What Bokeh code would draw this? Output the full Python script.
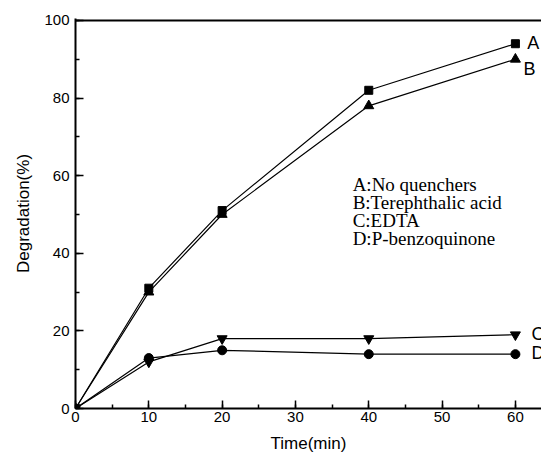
from bokeh.plotting import figure
from bokeh.models import Range1d, SingleIntervalTicker
from bokeh.embed import file_html
from bokeh.resources import INLINE
from bokeh.core.properties import value

time = [0, 10, 20, 40, 60]
series_a = [0, 31, 51, 82, 94]
series_b = [0, 30, 50, 78, 90]
series_c = [0, 12, 18, 18, 19]
series_d = [0, 13, 15, 14, 14]
end_labels = ["A", "B", "C", "D"]
legend_lines = ["A:No quenchers", "B:Terephthalic acid", "C:EDTA", "D:P-benzoquinone"]
x_end = 63.56
y_top = 100

p = figure(width=541, height=456, output_backend="svg", toolbar_location=None,
           x_range=Range1d(0, x_end), y_range=Range1d(0, 100.5),
           min_border_left=75, min_border_right=0, min_border_top=18, min_border_bottom=48,
           x_axis_label="Time(min)", y_axis_label="Degradation(%)")
p.outline_line_color = None
p.xgrid.visible = False
p.ygrid.visible = False
p.background_fill_color = "white"
p.border_fill_color = "white"

for ax in (p.xaxis[0], p.yaxis[0]):
    ax.axis_line_width = 2
    ax.axis_line_color = "black"
    ax.major_tick_in = 8
    ax.major_tick_out = 0
    ax.minor_tick_in = 4
    ax.minor_tick_out = 0
    ax.major_tick_line_width = 1.5
    ax.minor_tick_line_width = 1.5
    ax.major_label_text_font = "Liberation Sans"
    ax.major_label_text_font_size = "15px"
    ax.major_label_text_color = "black"
    ax.axis_label_text_font = "Liberation Sans"
    ax.axis_label_text_font_size = "17px"
    ax.axis_label_text_font_style = "normal"
    ax.axis_label_text_color = "black"

p.xaxis[0].ticker = SingleIntervalTicker(interval=10, num_minor_ticks=2)
p.yaxis[0].ticker = SingleIntervalTicker(interval=20, num_minor_ticks=2)
p.xaxis[0].major_label_standoff = 3
p.xaxis[0].axis_label_standoff = 9
p.yaxis[0].major_label_standoff = 6
p.yaxis[0].axis_label_standoff = 8

# top frame line
p.line(x=[0, x_end], y=[y_top, y_top], line_color="black", line_width=2)

lw = 1.2
p.line(time, series_a, line_color="black", line_width=lw)
p.scatter(time, series_a, marker="square", size=8, color="black")
p.line(time, series_b, line_color="black", line_width=lw)
p.scatter(time, series_b, marker="triangle", size=10, color="black")
p.line(time, series_c, line_color="black", line_width=lw)
p.scatter(time, series_c, marker="inverted_triangle", size=10, color="black")
p.line(time, series_d, line_color="black", line_width=lw)
p.scatter(time, series_d, marker="circle", size=9, color="black")

finals = [series_a[-1], series_b[-1], series_c[-1], series_d[-1]]
offs = [0.3, -2.5, 0.3, 0.2]
xoffs = [1.6, 1.1, 2.2, 2.2]
for lab, yv, o, xo in zip(end_labels, finals, offs, xoffs):
    p.text(x=[time[-1] + xo], y=[yv + o], text=[lab], text_font=value("Liberation Sans"),
           text_font_size="18px", text_baseline="middle", text_align="left", text_color="black")

ly = [57.7, 53.1, 48.5, 43.8]
for t, yv in zip(legend_lines, ly):
    p.text(x=[37.8], y=[yv], text=[t], text_font=value("Liberation Serif"),
           text_font_size="19px", text_baseline="alphabetic", text_align="left", text_color="black")

open("out.html", "w").write(file_html(p, INLINE))
